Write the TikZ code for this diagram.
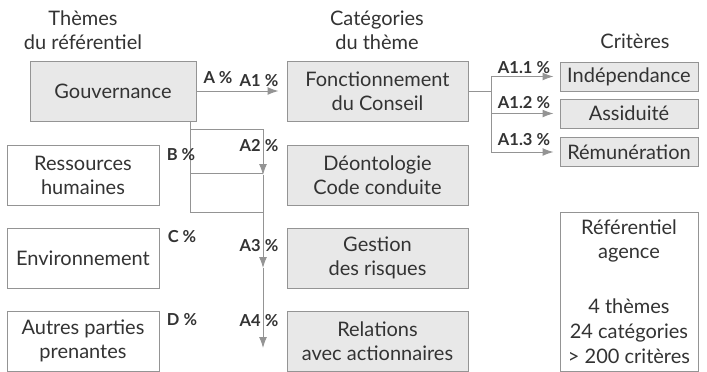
\documentclass[tikz,border=0pt]{standalone}
\usepackage{fontspec}
\setmainfont{Lato}
\usetikzlibrary{arrows.meta}
\tikzset{
  theme/.style={draw=boxline,line width=1pt,fill=white,align=center,inner sep=0pt,
    minimum width=152pt,minimum height=60pt},
  categ/.style={theme,fill=boxfill,minimum width=181pt},
  crit/.style={theme,fill=boxfill,minimum width=138pt,minimum height=29pt},
  pct/.style={font=\fontsize{16.5}{18}\selectfont\bfseries,inner sep=0pt},
  link/.style={boxline,line width=1pt},
  flow/.style={link,-{Latex[length=11pt,width=8pt]}}
}
\begin{document}
\begin{tikzpicture}[x=1pt,y=-1pt,font=\fontsize{20}{24}\selectfont,text=txt]
    \colorlet{boxfill}{black!9}
    \colorlet{boxline}{black!42}
    \colorlet{txt}{black!80}
    \useasboundingbox (0,0) rectangle (707,372);

    \node [align=center] (hthemes) at (83,30) {Thèmes\\du référentiel};
    \node [align=center] (hcat) at (377,30) {Catégories\\du thème};
    \node (hcrit) at (635,41) {Critères};

    \node [theme,fill=boxfill,minimum width=166pt] (gouv) at (113,91) {Gouvernance};
    \node [theme] (rh) at (83,175) {Ressources\\humaines};
    \node [theme] (env) at (83,258) {Environnement};
    \node [theme] (autres) at (83,341) {Autres parties\\prenantes};

    \node [categ] (fonct) at (377.5,91) {Fonctionnement\\du Conseil};
    \node [categ] (deonto) at (377.5,175) {Déontologie\\Code conduite};
    \node [categ] (risques) at (377.5,258) {Gestion\\des risques};
    \node [categ] (action) at (377.5,341) {Relations\\avec actionnaires};

    \node [crit] (indep) at (629,76.5) {Indépendance};
    \node [crit] (assid) at (629,113.5) {Assiduité};
    \node [crit] (remun) at (629,152) {Rémunération};
    \node [theme,minimum width=138pt,minimum height=159pt] (agence) at (629,291.5)
        {Référentiel\\agence\\[31pt]4 thèmes\\[1pt]24 catégories\\[1pt]> 200 critères};

    \draw [flow,shorten >=8pt] (gouv) -- (fonct);
    \coordinate (t0) at ([xshift=-6pt]gouv.south east);
    \coordinate (a1) at (263,129);
    \coordinate (a2) at (263,175);
    \coordinate (a3) at (263,268);
    \coordinate (a4) at (263,348);
    \draw [link] (t0) |- (263,212);
    \draw [link] (t0 |- a1) -- (a1);
    \draw [link] (190,173) -- (263,173);
    \draw [flow] (a1) -- (a2);
    \draw [flow] (a2) -- (a3);
    \draw [flow] (a3) -- (a4);

    \coordinate (f0) at (491,91);
    \draw [link] (fonct) -- (f0);
    \draw [link] (f0 |- indep) -- (f0 |- remun);
    \foreach \c in {indep,assid,remun} {
        \draw [flow,shorten >=6pt] (f0 |- \c) -- (\c);
    }

    \foreach \x/\y/\s in {218/78/A,181/155/B,182/237/C,182/320/D} {
        \node [pct] (p\s) at (\x,\y) {\s\ \%};
    }
    \foreach \y/\s in {81/1,146/2,246/3,321/4} {
        \node [pct] (pA\s) at (259,\y) {A\s\ \%};
    }
    \foreach \y/\s in {68/1,103/2,140/3} {
        \node [pct] (pA1\s) at (524,\y) {A1.\s\ \%};
    }
\end{tikzpicture}
\end{document}
